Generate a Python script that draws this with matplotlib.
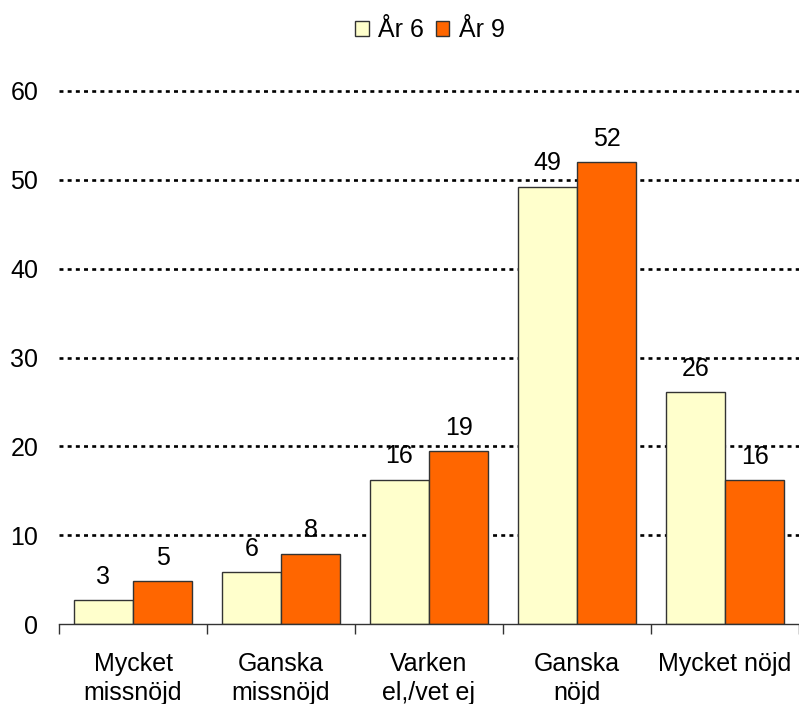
import matplotlib
matplotlib.use("Agg")
import matplotlib.pyplot as plt
import numpy as np

categories = ["Mycket\nmissnöjd", "Ganska\nmissnöjd", "Varken\nel,/vet ej", "Ganska\nnöjd", "Mycket nöjd"]
series_names = ["År 6", "År 9"]
ar6 = [2.72, 5.84, 16.26, 49.24, 26.11]
ar9 = [4.82, 7.93, 19.43, 51.99, 16.23]
yticks = [0, 10, 20, 30, 40, 50, 60]

plt.rcParams['font.family'] = ['Liberation Sans', 'DejaVu Sans']
FS = 18

fig = plt.figure(figsize=(7.99, 7.04), dpi=100)
ax = fig.add_axes([59/799, 1 - 624/704, 1 - 59/799, (624 - 91)/704])

x = np.arange(len(categories))
w = 0.4
b1 = ax.bar(x - w/2, ar6, width=w, color="#FFFFCC", edgecolor="#333333", linewidth=1, zorder=3, label=series_names[0])
b2 = ax.bar(x + w/2, ar9, width=w, color="#FF6600", edgecolor="#333333", linewidth=1, zorder=3, label=series_names[1])

for bars, vals in ((b1, ar6), (b2, ar9)):
    for rect, v in zip(bars, vals):
        ax.annotate(f"{v:.0f}", (rect.get_x() + rect.get_width()/2, v),
                    xytext=(0, 8), textcoords="offset points", ha="center", va="bottom",
                    fontsize=FS, zorder=4, annotation_clip=False)

ax.set_xlim(-0.5, len(categories) - 0.5)
ax.set_ylim(0, 60)
ax.set_yticks(yticks)
ax.set_yticklabels([str(t) for t in yticks], fontsize=FS)
ax.tick_params(axis='y', length=0, pad=15)
for t in yticks[1:]:
    ax.axhline(t, color="black", linewidth=1.9, linestyle=(0, (1.5, 1.6)), zorder=1, clip_on=False)

ax.set_xticks(x)
ax.set_xticklabels(categories, fontsize=FS, linespacing=1.25)
ax.tick_params(axis='x', length=0, pad=20)
ax.set_xticks(np.arange(-0.5, len(categories), 1), minor=True)
ax.tick_params(axis='x', which='minor', length=7, width=1, color="#333333")

for s in ("top", "right", "left"):
    ax.spines[s].set_visible(False)
ax.spines["bottom"].set_color("#333333")
ax.spines["bottom"].set_linewidth(1)
ax.spines["bottom"].set_zorder(5)

leg = fig.legend(handles=[b1, b2], labels=series_names, loc="center", bbox_to_anchor=(430/799, 1 - 30/704),
                 ncol=2, frameon=False, fontsize=FS, handlelength=0.55, handleheight=0.55,
                 handletextpad=0.4, columnspacing=0.45, borderpad=0)

fig.savefig("out.png", dpi=100)
